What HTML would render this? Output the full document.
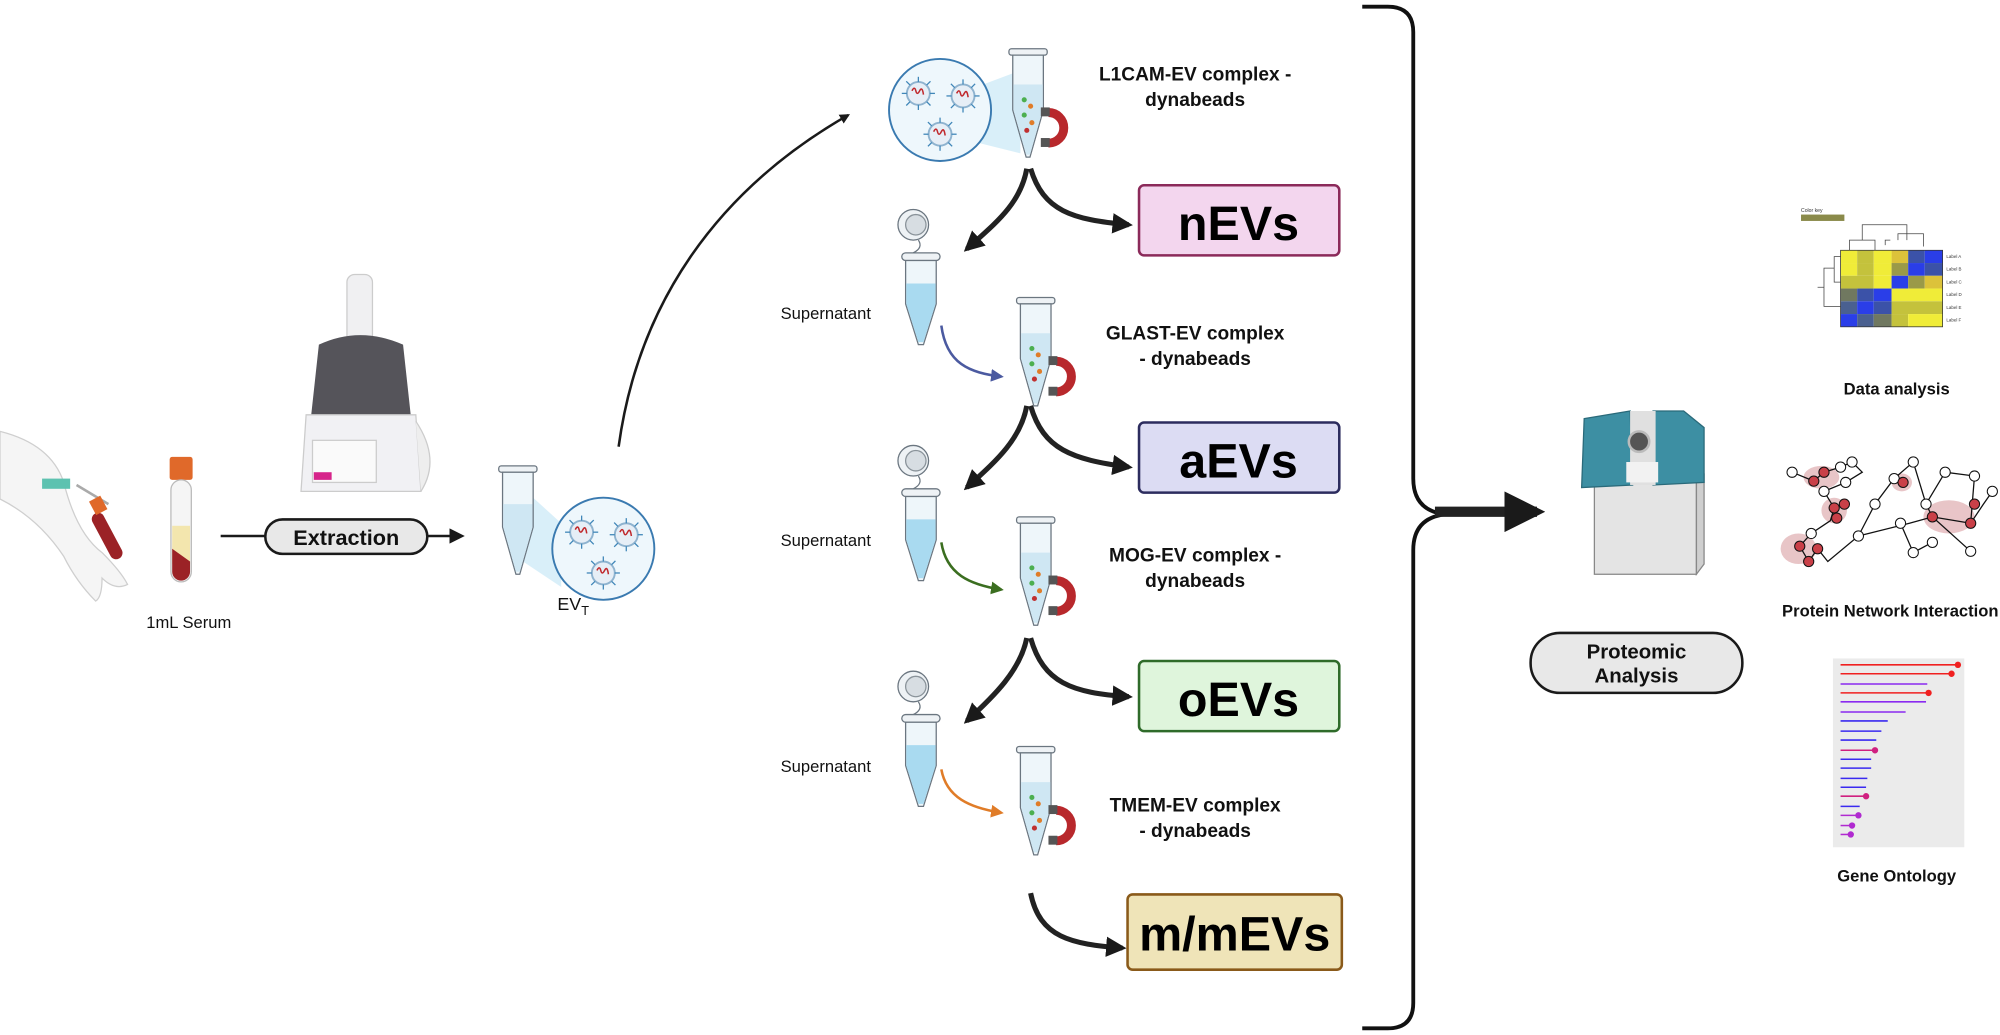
<!DOCTYPE html>
<html><head><meta charset="utf-8"><style>
html,body{margin:0;padding:0;background:#fff;width:2000px;height:1035px;overflow:hidden}
svg{display:block}
text{font-family:"Liberation Sans",sans-serif}
</style></head><body>
<svg width="2000" height="1035" viewBox="0 0 1568 811" xmlns="http://www.w3.org/2000/svg">
<defs>
<marker id="ah" viewBox="0 0 10 10" refX="8" refY="5" markerWidth="4" markerHeight="4" orient="auto"><path d="M0,0L10,5L0,10z" fill="#1a1a1a"/></marker>
<marker id="ahs" viewBox="0 0 10 10" refX="8" refY="5" markerWidth="6" markerHeight="6" orient="auto"><path d="M0,0L10,5L0,10z" fill="#1a1a1a"/></marker>
<marker id="ahb" viewBox="0 0 10 10" refX="8" refY="5" markerWidth="5" markerHeight="5" orient="auto"><path d="M0,0L10,5L0,10z" fill="#4b5aa0"/></marker>
<marker id="ahg" viewBox="0 0 10 10" refX="8" refY="5" markerWidth="5" markerHeight="5" orient="auto"><path d="M0,0L10,5L0,10z" fill="#3b6e20"/></marker>
<marker id="aho" viewBox="0 0 10 10" refX="8" refY="5" markerWidth="5" markerHeight="5" orient="auto"><path d="M0,0L10,5L0,10z" fill="#e07c28"/></marker>
<g id="tubeM">
  <rect x="-15" y="0" width="30" height="5" rx="2" fill="#eef2f5" stroke="#6b7680" stroke-width="1"/>
  <path d="M-12,5 L12,5 L12,48 L1.5,85 L-1.5,85 L-12,48Z" fill="#eef6fa" stroke="#6b7680" stroke-width="1"/>
  <path d="M-11.5,28 L11.5,28 L11.5,48 L1.5,83 L-1.5,83 L-11.5,48Z" fill="#cfe7f3"/>
  <circle cx="-3" cy="40" r="2" fill="#4caf50"/><circle cx="2" cy="45" r="2" fill="#e07c28"/><circle cx="-3" cy="52" r="2" fill="#4caf50"/><circle cx="3" cy="58" r="2" fill="#e07c28"/><circle cx="-1" cy="64" r="2" fill="#c03030"/>
  <path d="M16,50 a12,12 0 1 1 0,24" fill="none" stroke="#b8282c" stroke-width="7"/>
  <rect x="10" y="46" width="7" height="7" fill="#555"/><rect x="10" y="70" width="7" height="7" fill="#555"/>
</g>
<g id="tubeO">
  <circle cx="-6" cy="-22" r="12" fill="#eef2f5" stroke="#6b7680"/><circle cx="-4" cy="-22" r="8" fill="#d7dde2" stroke="#8a939a"/>
  <path d="M-2,-10 q4,6 -4,10" fill="none" stroke="#6b7680"/>
  <rect x="-15" y="0" width="30" height="6" rx="3" fill="#eef2f5" stroke="#6b7680"/>
  <path d="M-12,6 L12,6 L12,40 L2,72 L-2,72 L-12,40Z" fill="#eef6fa" stroke="#6b7680"/>
  <path d="M-11.5,24 L11.5,24 L11.5,40 L2,70 L-2,70 L-11.5,40Z" fill="#a9daf0"/>
</g>
<g id="tubeC">
  <rect x="-15" y="0" width="30" height="5" rx="2" fill="#eef2f5" stroke="#6b7680"/>
  <path d="M-12,5 L12,5 L12,48 L1.5,85 L-1.5,85 L-12,48Z" fill="#eef6fa" stroke="#6b7680"/>
  <path d="M-11.5,30 L11.5,30 L11.5,48 L1.5,83 L-1.5,83 L-11.5,48Z" fill="#cfe7f3"/>
</g>
<g id="ev">
  <circle r="9" fill="#e6eef6" stroke="#8fb3cf" stroke-width="1.5"/>
  <path d="M-5,-2 q2,-4 3,0 t3,0 t3,3" fill="none" stroke="#c0282c" stroke-width="1.2"/>
  <g stroke="#3f86b8" stroke-width="1"><line x1="0" y1="-9" x2="0" y2="-13"/><line x1="0" y1="9" x2="0" y2="13"/><line x1="-9" y1="0" x2="-13" y2="0"/><line x1="9" y1="0" x2="13" y2="0"/><line x1="6.5" y1="6.5" x2="9.5" y2="9.5"/><line x1="-6.5" y1="6.5" x2="-9.5" y2="9.5"/><line x1="6.5" y1="-6.5" x2="9.5" y2="-9.5"/><line x1="-6.5" y1="-6.5" x2="-9.5" y2="-9.5"/></g>
</g>
<g id="evc">
  <circle r="40" fill="#eef7fc" stroke="#3a7ab0" stroke-width="1.5"/>
  <use href="#ev" x="-17" y="-13"/><use href="#ev" x="18" y="-11"/><use href="#ev" x="0" y="19"/>
</g>
</defs>

<!-- hand & tubes -->
<path d="M0,338 q40,10 50,40 q10,40 30,55 q15,15 20,25 q-10,5 -20,-5 q0,15 -5,18 q-15,-15 -25,-35 q-20,-30 -50,-45Z" fill="#f5f5f5" stroke="#cfcfcf"/>
<rect x="33" y="375" width="22" height="8" fill="#5dc2b0"/>
<line x1="60" y1="380" x2="85" y2="395" stroke="#aaa" stroke-width="2"/>
<rect x="79" y="400" width="10" height="40" rx="5" transform="rotate(-28 84 420)" fill="#9b2226"/>
<rect x="72" y="390" width="10" height="12" transform="rotate(-28 77 396)" fill="#e0692a"/>
<rect x="133" y="358" width="18" height="18" rx="2" fill="#e0692a"/>
<rect x="134" y="376" width="16" height="80" rx="8" fill="#f5f5f5" stroke="#bbb"/>
<rect x="135" y="412" width="14" height="30" fill="#f3e6ae"/>
<path d="M135,430 L149,440 L149,448 a7,7 0 0 1 -14,0Z" fill="#9b2226"/>
<text x="148" y="492" font-size="13" text-anchor="middle" fill="#111">1mL Serum</text>

<!-- centrifuge -->
<rect x="272" y="215" width="20" height="60" rx="6" fill="#f0f0f2" stroke="#ccc"/>
<path d="M250,270 q32,-15 66,0 l6,55 h-78Z" fill="#55545a"/>
<path d="M240,325 h86 l4,60 h-94Z" fill="#f1f1f4" stroke="#ccc"/>
<path d="M326,330 q20,30 4,55" fill="#eee" stroke="#ccc"/>
<rect x="245" y="345" width="50" height="33" fill="#fafafa" stroke="#ccc"/>
<rect x="246" y="370" width="14" height="6" fill="#d6248a"/>

<!-- extraction arrow -->
<line x1="173" y1="420" x2="362" y2="420" stroke="#1a1a1a" stroke-width="2" marker-end="url(#ahs)"/>
<rect x="208" y="407" width="127" height="27" rx="13.5" fill="#e8e8e8" stroke="#1a1a1a" stroke-width="2"/>
<text x="271.5" y="427" font-size="17" font-weight="bold" text-anchor="middle" fill="#111">Extraction</text>

<!-- EVT -->
<path d="M418,390 L440,410 L440,460 L410,440Z" fill="#bfe4f5" opacity="0.6"/>
<use href="#tubeC" x="406" y="365"/>
<use href="#evc" x="473" y="430"/>
<text x="437" y="478" font-size="14" fill="#111">EV<tspan font-size="10" dy="4">T</tspan></text>

<path d="M485,350 C500,240 560,150 665,90" fill="none" stroke="#1a1a1a" stroke-width="2" marker-end="url(#ah)"/>

<!-- top tube -->
<path d="M760,70 L800,55 L800,120 L760,110Z" fill="#bfe4f5" opacity="0.6"/>
<use href="#evc" x="737" y="86"/>
<use href="#tubeM" x="806" y="38"/>
<text x="937" y="63" font-size="15" font-weight="bold" text-anchor="middle" fill="#111">L1CAM-EV complex -</text>
<text x="937" y="83" font-size="15" font-weight="bold" text-anchor="middle" fill="#111">dynabeads</text>

<!-- split arrows -->
<g fill="none" stroke="#222" stroke-width="4">
<path d="M805,132 C800,160 780,175 758,195" marker-end="url(#ah)"/>
<path d="M808,132 C818,165 840,172 885,176" marker-end="url(#ah)"/>
<path d="M805,318 C800,345 780,362 758,382" marker-end="url(#ah)"/>
<path d="M808,318 C818,352 840,360 885,366" marker-end="url(#ah)"/>
<path d="M805,500 C800,525 780,545 758,565" marker-end="url(#ah)"/>
<path d="M808,500 C818,535 840,543 885,546" marker-end="url(#ah)"/>
<path d="M808,700 C815,735 840,740 880,743" marker-end="url(#ah)"/>
</g>

<rect x="893" y="145" width="157" height="55" rx="4" fill="#f3d6ee" stroke="#8b2a5a" stroke-width="2"/>
<text x="971" y="188" font-size="38" font-weight="bold" text-anchor="middle" fill="#000">nEVs</text>
<rect x="893" y="331" width="157" height="55" rx="4" fill="#dcdcf3" stroke="#2c2c5e" stroke-width="2"/>
<text x="971" y="374" font-size="38" font-weight="bold" text-anchor="middle" fill="#000">aEVs</text>
<rect x="893" y="518" width="157" height="55" rx="4" fill="#dff5dc" stroke="#2f6b2a" stroke-width="2"/>
<text x="971" y="561" font-size="38" font-weight="bold" text-anchor="middle" fill="#000">oEVs</text>
<rect x="884" y="701" width="168" height="59" rx="4" fill="#efe4b8" stroke="#8a5a1a" stroke-width="2"/>
<text x="968" y="745" font-size="38" font-weight="bold" text-anchor="middle" fill="#000">m/mEVs</text>

<!-- supernatant rows -->
<use href="#tubeO" x="722" y="198"/>
<text x="612" y="250" font-size="13" fill="#111">Supernatant</text>
<path d="M738,255 C742,285 760,292 785,295" fill="none" stroke="#4b5aa0" stroke-width="2" marker-end="url(#ahb)"/>
<use href="#tubeM" x="812" y="233"/>
<text x="937" y="266" font-size="15" font-weight="bold" text-anchor="middle" fill="#111">GLAST-EV complex</text>
<text x="937" y="286" font-size="15" font-weight="bold" text-anchor="middle" fill="#111">- dynabeads</text>

<use href="#tubeO" x="722" y="383"/>
<text x="612" y="428" font-size="13" fill="#111">Supernatant</text>
<path d="M738,425 C742,450 760,458 785,462" fill="none" stroke="#3b6e20" stroke-width="2" marker-end="url(#ahg)"/>
<use href="#tubeM" x="812" y="405"/>
<text x="937" y="440" font-size="15" font-weight="bold" text-anchor="middle" fill="#111">MOG-EV complex -</text>
<text x="937" y="460" font-size="15" font-weight="bold" text-anchor="middle" fill="#111">dynabeads</text>

<use href="#tubeO" x="722" y="560"/>
<text x="612" y="605" font-size="13" fill="#111">Supernatant</text>
<path d="M738,603 C742,625 760,633 785,637" fill="none" stroke="#e07c28" stroke-width="2" marker-end="url(#aho)"/>
<use href="#tubeM" x="812" y="585"/>
<text x="937" y="636" font-size="15" font-weight="bold" text-anchor="middle" fill="#111">TMEM-EV complex</text>
<text x="937" y="656" font-size="15" font-weight="bold" text-anchor="middle" fill="#111">- dynabeads</text>

<!-- brace -->
<path d="M1068,5 h20 q20,0 20,20 V375 q0,25 25,28 q-25,3 -25,28 V786 q0,20 -20,20 h-20" fill="none" stroke="#111" stroke-width="3"/>
<line x1="1125" y1="401" x2="1205" y2="401" stroke="#222" stroke-width="8" marker-end="url(#ah)"/>

<!-- mass spec -->
<rect x="1250" y="378" width="80" height="72" fill="#e4e4e4" stroke="#888"/>
<path d="M1330,378 L1336,372 L1336,442 L1330,450Z" fill="#cfcfcf" stroke="#888"/>
<path d="M1242,328 L1278,322 L1280,380 L1240,382Z" fill="#3d8fa3" stroke="#2a6a7a"/>
<path d="M1296,322 L1320,322 L1336,335 L1336,378 L1296,380Z" fill="#3d8fa3" stroke="#2a6a7a"/>
<rect x="1278" y="322" width="20" height="58" fill="#e0e0e0"/>
<circle cx="1285" cy="346" r="8" fill="#555" stroke="#bbb" stroke-width="2"/>
<rect x="1275" y="362" width="25" height="16" fill="#f2f2f2"/>

<rect x="1200" y="496" width="166" height="47" rx="23" fill="#e8e8e8" stroke="#1a1a1a" stroke-width="2"/>
<text x="1283" y="516" font-size="16" font-weight="bold" text-anchor="middle" fill="#111">Proteomic</text>
<text x="1283" y="535" font-size="16" font-weight="bold" text-anchor="middle" fill="#111">Analysis</text>

<!-- heatmap -->
<text x="1412" y="166" font-size="4" fill="#333">Color key</text>
<rect x="1412" y="168" width="34" height="5" fill="#8a8a4a"/>
<g transform="translate(1443,196)">
<rect width="13" height="10" fill="#f0ec38"/><rect x="13" width="13" height="10" fill="#c4c23c"/><rect x="26" width="14" height="10" fill="#f0ec38"/><rect x="40" width="13" height="10" fill="#dcc23a"/><rect x="53" width="13" height="10" fill="#3b52a8"/><rect x="66" width="14" height="10" fill="#2a3ee8"/>
<rect y="10" width="13" height="10" fill="#f0ec38"/><rect x="13" y="10" width="13" height="10" fill="#c4c23c"/><rect x="26" y="10" width="14" height="10" fill="#f0ec38"/><rect x="40" y="10" width="13" height="10" fill="#9a9a48"/><rect x="53" y="10" width="13" height="10" fill="#2a3ee8"/><rect x="66" y="10" width="14" height="10" fill="#3b52a8"/>
<rect y="20" width="26" height="10" fill="#c4c23c"/><rect x="26" y="20" width="14" height="10" fill="#f0ec38"/><rect x="40" y="20" width="13" height="10" fill="#2a3ee8"/><rect x="53" y="20" width="13" height="10" fill="#9a9a48"/><rect x="66" y="20" width="14" height="10" fill="#dcc23a"/>
<rect y="30" width="13" height="10" fill="#707860"/><rect x="13" y="30" width="13" height="10" fill="#3b52a8"/><rect x="26" y="30" width="14" height="10" fill="#2a3ee8"/><rect x="40" y="30" width="40" height="10" fill="#f0ec38"/>
<rect y="40" width="13" height="10" fill="#4a6090"/><rect x="13" y="40" width="13" height="10" fill="#2a3ee8"/><rect x="26" y="40" width="14" height="10" fill="#3b52a8"/><rect x="40" y="40" width="40" height="10" fill="#c4c23c"/>
<rect y="50" width="13" height="10" fill="#2a3ee8"/><rect x="13" y="50" width="13" height="10" fill="#4a6090"/><rect x="26" y="50" width="14" height="10" fill="#707860"/><rect x="40" y="50" width="13" height="10" fill="#c4c23c"/><rect x="53" y="50" width="27" height="10" fill="#f0ec38"/>
<rect width="80" height="60" fill="none" stroke="#333" stroke-width="0.6"/>
</g>
<path d="M1450,196 v-8 h20 v8 M1460,188 v-12 h35 v12 M1478,192 v-4 h4 M1488,188 v-5 h20 v10" fill="none" stroke="#444" stroke-width="0.6"/>
<path d="M1443,201 h-5 v20 h5 M1438,210 h-8 v30 h13 M1430,225 h-5" fill="none" stroke="#444" stroke-width="0.6"/>
<g font-size="3.5" fill="#333"><text x="1526" y="202">Label A</text><text x="1526" y="212">Label B</text><text x="1526" y="222">Label C</text><text x="1526" y="232">Label D</text><text x="1526" y="242">Label E</text><text x="1526" y="252">Label F</text></g>
<text x="1487" y="309" font-size="13" font-weight="bold" text-anchor="middle" fill="#111">Data analysis</text>

<!-- network -->
<g fill="#e3b7ba" opacity="0.8"><ellipse cx="1428" cy="374" rx="14" ry="9"/><ellipse cx="1438" cy="400" rx="10" ry="10"/><ellipse cx="1491" cy="378" rx="8" ry="7"/><ellipse cx="1528" cy="405" rx="20" ry="13"/><ellipse cx="1410" cy="430" rx="14" ry="12"/></g>
<g stroke="#111" stroke-width="1" fill="none"><path d="M1405,370 L1422,377 L1430,370 L1443,366 L1452,362 L1460,370 L1447,378 L1430,385 L1438,398 L1435,408 L1420,418 L1411,428 L1418,440 L1425,430 L1433,440 L1457,420 L1470,395 L1485,375 L1500,362 L1510,395 L1525,370 L1548,373 L1545,410 L1555,395 L1562,385 M1457,420 L1497,410 L1515,405 L1545,410 M1490,410 L1500,433 L1515,425 M1510,395 L1515,405 L1545,432"/></g>
<g stroke="#111" stroke-width="0.8">
<circle cx="1405" cy="370" r="4" fill="#fff"/><circle cx="1422" cy="377" r="4" fill="#c94048"/><circle cx="1430" cy="370" r="4" fill="#c94048"/><circle cx="1443" cy="366" r="4" fill="#fff"/><circle cx="1452" cy="362" r="4" fill="#fff"/><circle cx="1447" cy="378" r="4" fill="#fff"/><circle cx="1430" cy="385" r="4" fill="#fff"/><circle cx="1438" cy="398" r="4" fill="#c94048"/><circle cx="1446" cy="395" r="4" fill="#c94048"/><circle cx="1440" cy="406" r="4" fill="#c94048"/><circle cx="1420" cy="418" r="4" fill="#fff"/><circle cx="1411" cy="428" r="4" fill="#c94048"/><circle cx="1425" cy="430" r="4" fill="#c94048"/><circle cx="1418" cy="440" r="4" fill="#c94048"/><circle cx="1457" cy="420" r="4" fill="#fff"/><circle cx="1470" cy="395" r="4" fill="#fff"/><circle cx="1485" cy="375" r="4" fill="#fff"/><circle cx="1500" cy="362" r="4" fill="#fff"/><circle cx="1492" cy="378" r="4" fill="#c94048"/><circle cx="1510" cy="395" r="4" fill="#fff"/><circle cx="1525" cy="370" r="4" fill="#fff"/><circle cx="1548" cy="373" r="4" fill="#fff"/><circle cx="1545" cy="410" r="4" fill="#c94048"/><circle cx="1515" cy="405" r="4" fill="#c94048"/><circle cx="1548" cy="395" r="4" fill="#c94048"/><circle cx="1562" cy="385" r="4" fill="#fff"/><circle cx="1490" cy="410" r="4" fill="#fff"/><circle cx="1500" cy="433" r="4" fill="#fff"/><circle cx="1515" cy="425" r="4" fill="#fff"/><circle cx="1545" cy="432" r="4" fill="#fff"/></g>
<text x="1482" y="483" font-size="13" font-weight="bold" text-anchor="middle" fill="#111">Protein Network Interaction</text>

<!-- gene ontology -->
<rect x="1437" y="516" width="103" height="148" fill="#ebebeb"/>
<g stroke-width="1.2">
<line x1="1443" y1="521" x2="1535" y2="521" stroke="#f02020"/><circle cx="1535" cy="521" r="2.5" fill="#f02020"/>
<line x1="1443" y1="528" x2="1530" y2="528" stroke="#f02020"/><circle cx="1530" cy="528" r="2.5" fill="#f02020"/>
<line x1="1443" y1="536" x2="1511" y2="536" stroke="#8a2af0"/>
<line x1="1443" y1="543" x2="1512" y2="543" stroke="#f02020"/><circle cx="1512" cy="543" r="2.5" fill="#f02020"/>
<line x1="1443" y1="550" x2="1510" y2="550" stroke="#8a2af0"/>
<line x1="1443" y1="558" x2="1494" y2="558" stroke="#8a2af0"/>
<line x1="1443" y1="565" x2="1480" y2="565" stroke="#3a2af0"/>
<line x1="1443" y1="573" x2="1475" y2="573" stroke="#3a2af0"/>
<line x1="1443" y1="580" x2="1471" y2="580" stroke="#3a2af0"/>
<line x1="1443" y1="588" x2="1470" y2="588" stroke="#d02080"/><circle cx="1470" cy="588" r="2.5" fill="#d02080"/>
<line x1="1443" y1="595" x2="1467" y2="595" stroke="#3a2af0"/>
<line x1="1443" y1="602" x2="1467" y2="602" stroke="#3a2af0"/>
<line x1="1443" y1="610" x2="1464" y2="610" stroke="#3a2af0"/>
<line x1="1443" y1="617" x2="1463" y2="617" stroke="#3a2af0"/>
<line x1="1443" y1="624" x2="1463" y2="624" stroke="#d02080"/><circle cx="1463" cy="624" r="2.5" fill="#d02080"/>
<line x1="1443" y1="632" x2="1458" y2="632" stroke="#3a2af0"/>
<line x1="1443" y1="639" x2="1457" y2="639" stroke="#b02ad0"/><circle cx="1457" cy="639" r="2.5" fill="#b02ad0"/>
<line x1="1443" y1="647" x2="1452" y2="647" stroke="#b02ad0"/><circle cx="1452" cy="647" r="2.5" fill="#b02ad0"/>
<line x1="1443" y1="654" x2="1451" y2="654" stroke="#b02ad0"/><circle cx="1451" cy="654" r="2.5" fill="#b02ad0"/>
</g>
<text x="1487" y="691" font-size="13" font-weight="bold" text-anchor="middle" fill="#111">Gene Ontology</text>
</svg>
</body></html>
